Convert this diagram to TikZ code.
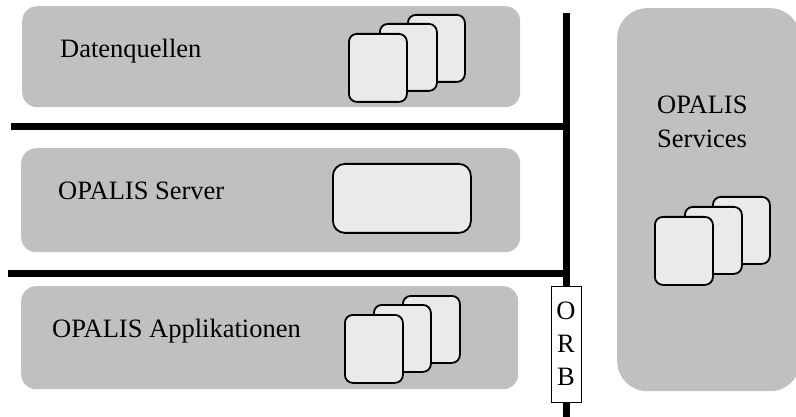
\documentclass[tikz,border=0pt]{standalone}
\usepackage{fontspec}
\setmainfont{Liberation Serif}
\definecolor{panelgray}{HTML}{C0C0C0}
\definecolor{cardgray}{HTML}{EAEAEA}
\begin{document}
\begin{tikzpicture}[x=1pt,y=-1pt,
  panel/.style={fill=panelgray, draw=none, rounded corners=15pt, inner sep=0pt, anchor=north west},
  card/.style={fill=cardgray, draw=black, line width=1.8pt, rounded corners=8pt, inner sep=0pt,
               minimum width=57pt, minimum height=67pt, anchor=north west},
  bus/.style={line width=7pt, draw=black},
  lbl/.style={font=\fontsize{26.5}{34}\selectfont, anchor=base west, inner sep=0pt, align=left}]
  \useasboundingbox (0,0) rectangle (796,417);
  % panels
  \node[panel, minimum width=498pt, minimum height=101pt] (pDaten) at (22,6) {};
  \node[panel, minimum width=499pt, minimum height=104pt] (pServer) at (21,148) {};
  \node[panel, minimum width=497pt, minimum height=103pt] (pAppl) at (21,286) {};
  \node[panel, rounded corners=30pt, minimum width=183pt, minimum height=383pt] (pServ) at (617,8) {};
  % labels
  \node[lbl] (tDaten) at (60,58) {Datenquellen};
  \node[lbl] (tServer) at (58,200) {OPALIS Server};
  \node[lbl] (tAppl) at (52,337) {OPALIS Applikationen};
  \node[lbl] (tServ1) at (657,114) {OPALIS};
  \node[lbl] (tServ2) at (657,148) {Services};
  % card stacks
  \node[card] (d3) at (407,14) {};
  \node[card] (d2) at (379,23) {};
  \node[card, minimum width=58pt, minimum height=68pt] (d1) at (348,33) {};
  \node[card, minimum width=138pt, minimum height=69pt, rounded corners=12pt] (srv) at (332,163) {};
  \node[card] (a3) at (402,295) {};
  \node[card] (a2) at (373,304) {};
  \node[card, minimum width=58pt, minimum height=68pt] (a1) at (344,314) {};
  \node[card] (s3) at (712,196) {};
  \node[card] (s2) at (684,206) {};
  \node[card, minimum width=58pt, minimum height=68pt] (s1) at (654,216) {};
  % bus
  \coordinate (busTop) at (566,13);
  \coordinate (busBot) at (566,417);
  \coordinate (h1L) at (11,127);
  \coordinate (h2L) at (8,273);
  \node[draw=black, line width=0.8pt, fill=white, minimum width=30pt, minimum height=116pt, inner sep=0pt,
        font=\fontsize{26.5}{33}\selectfont, align=center] (orb) at (566,344) {O\\R\\B};
  \draw[bus] (busTop) -- (orb.north);
  \draw[bus] (orb.south) -- (busBot);
  \draw[bus] (h1L) -- (h1L -| busTop);
  \draw[bus] (h2L) -- (h2L -| busTop);
\end{tikzpicture}
\end{document}
